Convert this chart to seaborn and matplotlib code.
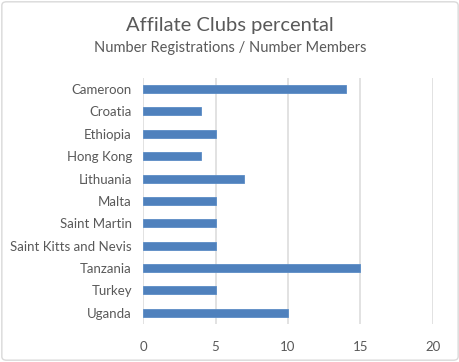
import matplotlib
matplotlib.use("Agg")
import matplotlib.pyplot as plt
import seaborn as sns
import pandas as pd
from matplotlib.patches import FancyBboxPatch

countries = ["Cameroon", "Croatia", "Ethiopia", "Hong Kong", "Lithuania", "Malta",
             "Saint Martin", "Saint Kitts and Nevis", "Tanzania", "Turkey", "Uganda"]
values = [14, 4, 5, 4, 7, 5, 5, 5, 15, 5, 10]
xticks = [0, 5, 10, 15, 20]

sns.set_theme(style="white")
plt.rcParams['font.family'] = ['Lato', 'DejaVu Sans']
grey = "#595959"

df = pd.DataFrame({"country": countries, "value": values})

fig = plt.figure(figsize=(4.6, 3.62), dpi=100)
ax = fig.add_axes([0.311, 0.105, 0.63, 0.68])
sns.barplot(data=df, x="value", y="country", color="#4f81bd", width=0.36,
            saturation=1, ax=ax, zorder=3, edgecolor="#5b8cc6", linewidth=0.6)

ax.set_xlim(0, 20)
ax.set_xticks(xticks)
ax.xaxis.grid(True, color="#dddddd", linewidth=1.2, zorder=0)
ax.set_xlabel("")
ax.set_ylabel("")
for s in ax.spines.values():
    s.set_visible(False)
ax.tick_params(axis="both", length=0, labelsize=9.5, labelcolor=grey)
ax.tick_params(axis="x", pad=12)
ax.tick_params(axis="y", pad=8)

fig.text(0.5, 0.915, "Affilate Clubs percental", ha="center", fontsize=14.5, color=grey)
fig.text(0.5, 0.855, "Number Registrations / Number Members", ha="center", fontsize=10.5, color=grey)

fig.patches.append(FancyBboxPatch((0.004, 0.005), 0.992, 0.99, boxstyle="round,pad=0,rounding_size=0.01",
                                  transform=fig.transFigure, fill=False, edgecolor="#d9d9d9", linewidth=1))

fig.savefig("out.png", dpi=100)
